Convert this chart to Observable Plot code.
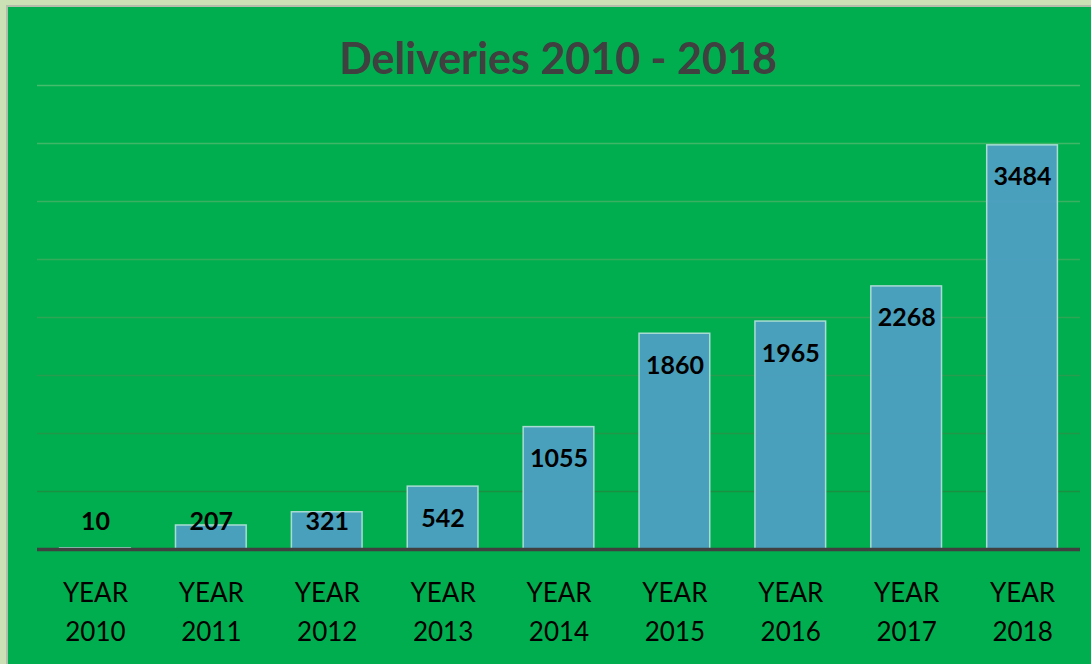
<!DOCTYPE html>
<html>
<head>
<meta charset="utf-8">
<script src="https://cdn.jsdelivr.net/npm/d3@7"></script>
<script src="https://cdn.jsdelivr.net/npm/@observablehq/plot@0.6"></script>
<style>
  html, body { margin: 0; padding: 0; }
  body { width: 1091px; height: 664px; background: #cce0b6; position: relative; overflow: hidden; font-family: Lato, "Open Sans", sans-serif; }
  #frame { position: absolute; left: 6px; top: 5px; width: 1100px; height: 680px; background: #00ae4f; border: 2px solid #b4bcaa; box-sizing: border-box; }
  #title { position: absolute; left: 0; width: 1116px; top: 36px; text-align: center; font-family: Lato, sans-serif; font-weight: 700; font-size: 43px; color: #404040; line-height: 1; }
  #chart { position: absolute; left: 0; top: 0; }
  #chart svg { background: transparent; overflow: visible; }
</style>
</head>
<body>
<div id="frame"></div>
<div id="chart"></div>
<div id="title">Deliveries 2010 - 2018</div>
<script>
const years = ["2010", "2011", "2012", "2013", "2014", "2015", "2016", "2017", "2018"];
const deliveries = [10, 207, 321, 542, 1055, 1860, 1965, 2268, 3484];
const gridValues = [500, 1000, 1500, 2000, 2500, 3000, 3500, 4000];
const labelPrefix = "YEAR";

const data = years.map((y, i) => ({ year: y, value: deliveries[i] }));
const gridColor = d3.scaleLinear().domain([0, 4000]).range(["#158a3c", "#46bd6e"]);

const chart = Plot.plot({
  width: 1091,
  height: 664,
  marginLeft: 37,
  marginRight: 11,
  marginTop: 85,
  marginBottom: 115,
  style: { background: "transparent", overflow: "visible" },
  x: { domain: years, paddingInner: 0.39, paddingOuter: 0.195, round: false, axis: null },
  y: { domain: [0, 4000], axis: null },
  marks: [
    Plot.ruleY(gridValues, { stroke: d => gridColor(d), strokeWidth: 1.3 }),
    Plot.barY(data, {
      x: "year", y: "value",
      fill: "#4f9fc6", fillOpacity: 0.93,
      stroke: "#a9dcd3", strokeWidth: 1.5
    }),
    Plot.ruleY([0], { stroke: "#404040", strokeWidth: 3.5 }),
    Plot.text(data, {
      x: "year",
      y: d => Math.max(d.value, 509),
      dy: 32,
      text: d => String(d.value),
      fontSize: 25,
      fontWeight: "bold",
      fill: "#000",
      fontFamily: "Lato, sans-serif"
    }),
    Plot.text(data, {
      x: "year", y: 0, dy: 44,
      text: () => labelPrefix,
      fontSize: 26, fill: "#000", fontFamily: "Lato, sans-serif"
    }),
    Plot.text(data, {
      x: "year", y: 0, dy: 83,
      text: "year",
      fontSize: 26, fill: "#000", fontFamily: "Lato, sans-serif"
    })
  ]
});
document.getElementById("chart").appendChild(chart);
</script>
</body>
</html>
